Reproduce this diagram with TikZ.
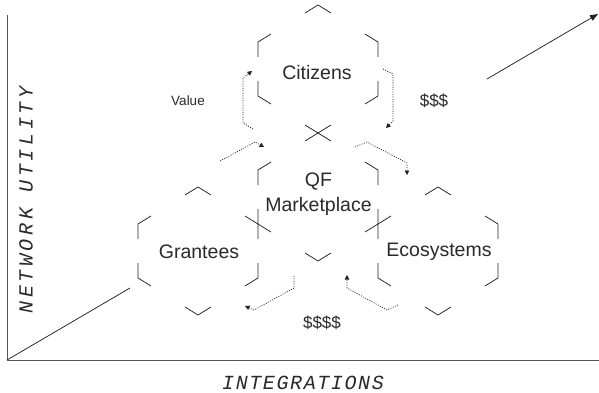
\documentclass[tikz,border=0pt]{standalone}
\usepackage{fontspec}
\setmainfont{Liberation Sans}
\newfontfamily\axisfont{Liberation Mono}
\usetikzlibrary{arrows.meta}
\definecolor{ink}{HTML}{222222}
\definecolor{txt}{HTML}{2A2A2A}
\definecolor{axis}{HTML}{555555}
\tikzset{
  hexline/.style={draw=ink, line width=0.75pt},
  hexmarks/.pic={
    \draw[hexline] (-13,-56) -- (0,-64) -- (13,-56);
    \draw[hexline] (-47,-35) -- (-60,-27) -- (-60,-12);
    \draw[hexline] (47,-35) -- (60,-27) -- (60,-12);
    \draw[hexline] (-60,12) -- (-60,27) -- (-47,35);
    \draw[hexline] (60,12) -- (60,27) -- (47,35);
    \draw[hexline] (-13,56) -- (0,64) -- (13,56);
  },
  label/.style={text=txt, font=\fontsize{19.5}{25}\selectfont, inner sep=0pt, align=center},
  small/.style={text=txt, font=\fontsize{13.5}{16}\selectfont, inner sep=0pt},
  money/.style={text=txt, font=\fontsize{17}{20}\selectfont, inner sep=0pt},
  flow/.style={draw=ink, line width=0.7pt, dash pattern=on 1pt off 1.4pt,
    -{Triangle[length=4.5pt,width=4.5pt]}},
  axisline/.style={draw=axis, line width=0.8pt},
  axislabel/.style={text=txt, inner sep=0pt},
}
\begin{document}
\begin{tikzpicture}[x=1pt,y=-1pt]
\useasboundingbox (0,0) rectangle (599,393);
\fill[white] (0,0) rectangle (599,393);

% axes
\coordinate (orig) at (7,360);
\coordinate (ytop) at (7,15);
\coordinate (xend) at (599,360);
\draw[axisline] (ytop) -- (orig) -- (xend);
\coordinate (dA) at (130,288);
\coordinate (dB) at (487,79);
\coordinate (dC) at (598,14);
\draw[draw=ink, line width=0.75pt] (orig) -- (dA);
\draw[draw=ink, line width=0.75pt, -{Triangle[length=8pt,width=6pt]}] (dB) -- (dC);

\node[axislabel, font=\axisfont\itshape\fontsize{20}{22}\selectfont\addfontfeatures{LetterSpace=8}] (xl) at (303,383) {INTEGRATIONS};
\node[axislabel, rotate=90, font=\axisfont\itshape\fontsize{20}{22}\selectfont\addfontfeatures{LetterSpace=18}] (yl) at (26,200) {NETWORK UTILITY};

% hexagons
\pic at (318,69) {hexmarks};
\pic at (318,197) {hexmarks};
\pic at (198,251) {hexmarks};
\pic at (438,251) {hexmarks};

\node[label] (cit) at (317,73) {Citizens};
\node[label] (qf) at (318.5,194.5) {QF\\Marketplace};
\node[label] (gra) at (199,252) {Grantees};
\node[label] (eco) at (439,252) {Ecosystems};

\node[small] (val) at (188,101) {Value};
\node[money] (d3) at (434,101) {\$\$\$};
\node[money] (d4) at (322,323) {\$\$\$\$};

% flows
\coordinate (f1s) at (253,129); \coordinate (f1e) at (252,71);
\draw[flow] (f1s) -- (243,123) -- (243,78) -- (f1e);
\coordinate (f2s) at (383,69); \coordinate (f2e) at (386,128);
\draw[flow] (f2s) -- (393,74) -- (393,121) -- (f2e);
\coordinate (f3s) at (220,161); \coordinate (f3e) at (264,147);
\draw[flow] (f3s) -- (255,142) -- (f3e);
\coordinate (f4s) at (355,147); \coordinate (f4e) at (407,175);
\draw[flow] (f4s) -- (367,142) -- (407,163) -- (f4e);
\coordinate (f5s) at (294,276); \coordinate (f5e) at (245,306);
\draw[flow] (f5s) -- (294,288) -- (254,310) -- (f5e);
\coordinate (f6s) at (398,305); \coordinate (f6e) at (347,275);
\draw[flow] (f6s) -- (387,310) -- (347,288) -- (f6e);
\end{tikzpicture}
\end{document}
